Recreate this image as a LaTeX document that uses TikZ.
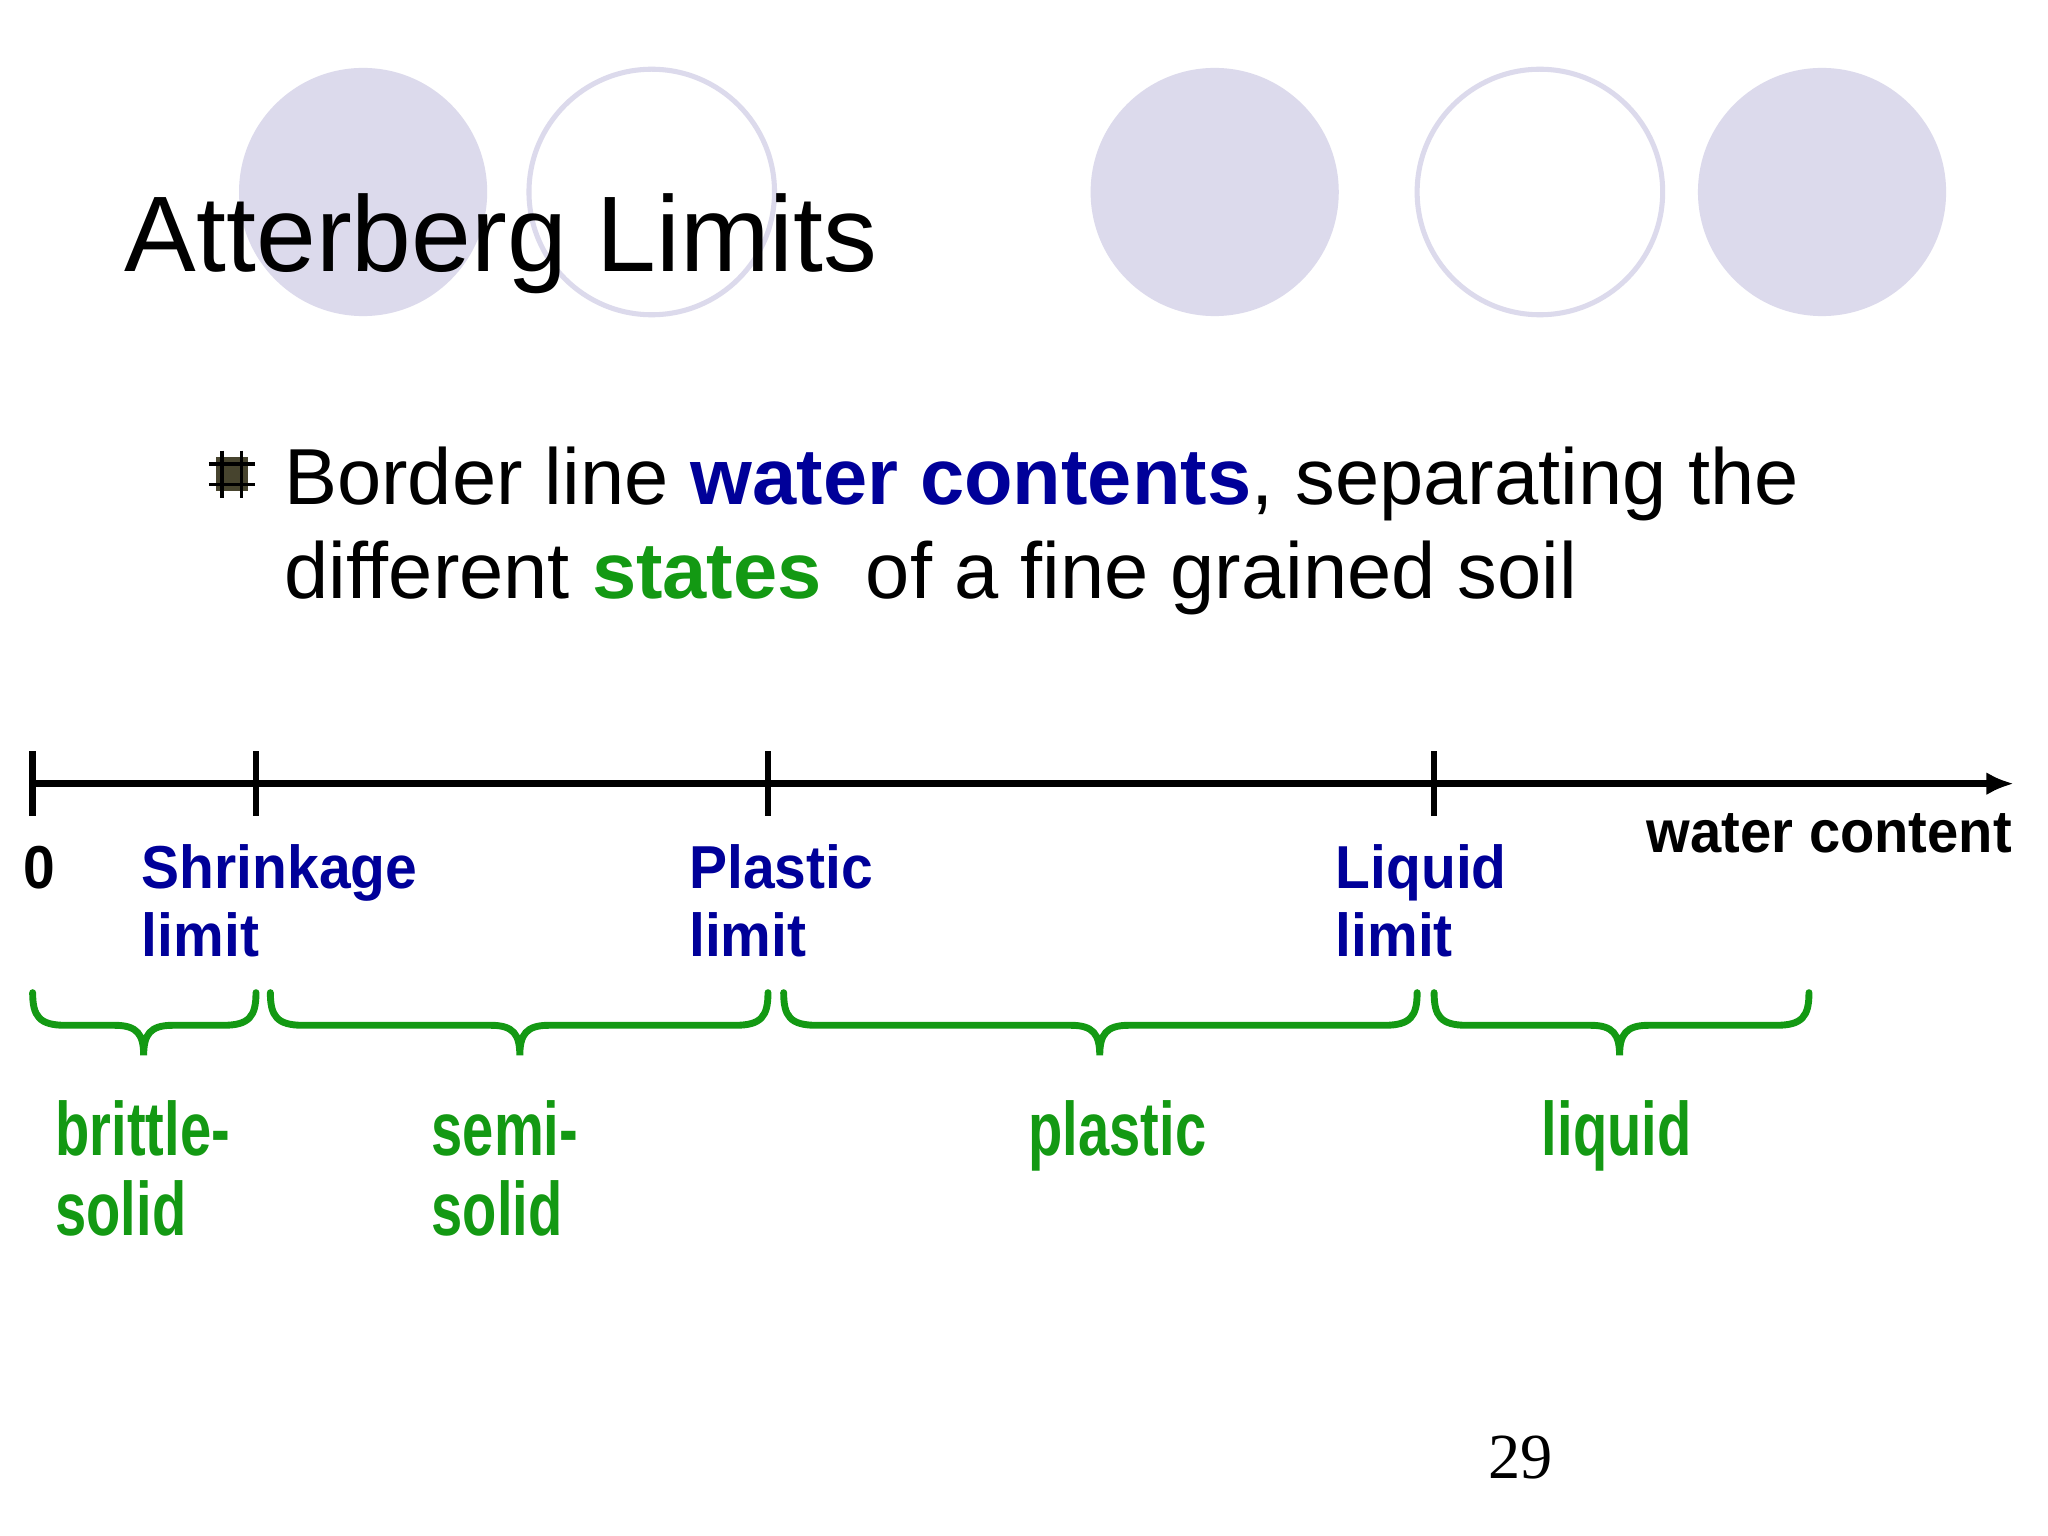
\documentclass[tikz,border=0pt]{standalone}
\usepackage{fontspec}
\usetikzlibrary{arrows.meta}
\setmainfont{Liberation Sans}
\newfontfamily\serifnum{Liberation Serif}
\definecolor{lav}{HTML}{DCDAEC}
\definecolor{dblue}{HTML}{000099}
\definecolor{sgreen}{HTML}{139913}
\begin{document}
\begin{tikzpicture}[x=0.01cm,y=-0.01cm,
  axis/.style={line width=1.4pt,black},
  brc/.style={line width=1.5pt,sgreen,line cap=round},
  bl/.style={anchor=base west,inner sep=0,text=dblue,font=\fontsize{13.2}{16}\selectfont\bfseries,xscale=0.94},
  gl/.style={anchor=base west,inner sep=0,text=sgreen,font=\fontsize{16.5}{18}\selectfont\bfseries,xscale=0.74},
  body/.style={anchor=base west,inner sep=0,font=\fontsize{17.3}{20}\selectfont}]
\useasboundingbox (0,0) rectangle (1568,1176);
\fill[white] (0,0) rectangle (1568,1176);
% circles
\fill[lav] (278,147) circle (95);
\draw[lav,line width=1.1pt] (499,147) circle (94);
\fill[lav] (930,147) circle (95);
\draw[lav,line width=1.1pt] (1179,147) circle (94);
\fill[lav] (1395,147) circle (95);
% title
\node[anchor=base west,inner sep=0,font=\fontsize{23.4}{28}\selectfont] (title) at (95,208) {Atterberg Limits};
% bullet
\fill[black!65!olive] (165,350) rectangle (190,376);
\draw[black,line width=0.8pt] (170,345)--(170,381) (185,345)--(185,381) (160,355)--(195,355) (160,371)--(195,371);
\node[body] (l1) at (217,386) {Border line \textcolor{dblue}{\bfseries water contents}, separating the};
\node[body] (l2) at (217,458) {different \textcolor{sgreen}{\bfseries states}\ \ of a fine grained soil};
% axis
\coordinate (a0) at (25,600);
\coordinate (aend) at (1542,600);
\draw[axis,-{Latex[length=6pt,width=5pt]}] (a0) -- (aend);
\foreach \x in {25,196,588,1098}{
  \draw[axis] (\x,575) -- (\x,625);
}
\node[bl,text=black] (z) at (17,680) {0};
\node[bl] (s1) at (108,680) {Shrinkage};
\node[bl] (s2) at (108,732) {limit};
\node[bl] (p1) at (527,680) {Plastic};
\node[bl] (p2) at (527,732) {limit};
\node[bl] (q1) at (1022,680) {Liquid};
\node[bl] (q2) at (1022,732) {limit};
\node[anchor=base east,inner sep=0,font=\fontsize{13}{16}\selectfont\bfseries,xscale=0.94] (wc) at (1541,653) {water content};
% braces
\foreach \a/\t/\b in {25/110/196, 207/398/588, 600/842/1085, 1098/1240/1385}{
  \draw[brc] (\a,760) .. controls (\a,778) and (\a+5,785) .. (\a+25,785)
     -- (\t-22,785) .. controls (\t-5,785) and (\t,792) .. (\t,808)
     .. controls (\t,792) and (\t+5,785) .. (\t+22,785)
     -- (\b-25,785) .. controls (\b-5,785) and (\b,778) .. (\b,760);
}
\node[gl] (g1) at (42,885) {brittle-};
\node[gl] (g2) at (42,946) {solid};
\node[gl] (g3) at (330,885) {semi-};
\node[gl] (g4) at (330,946) {solid};
\node[gl] (g5) at (787,885) {plastic};
\node[gl] (g6) at (1180,885) {liquid};
\node[anchor=base west,inner sep=0,font=\serifnum\fontsize{14}{16}\selectfont] (pg) at (1139,1132) {29};
\end{tikzpicture}
\end{document}
